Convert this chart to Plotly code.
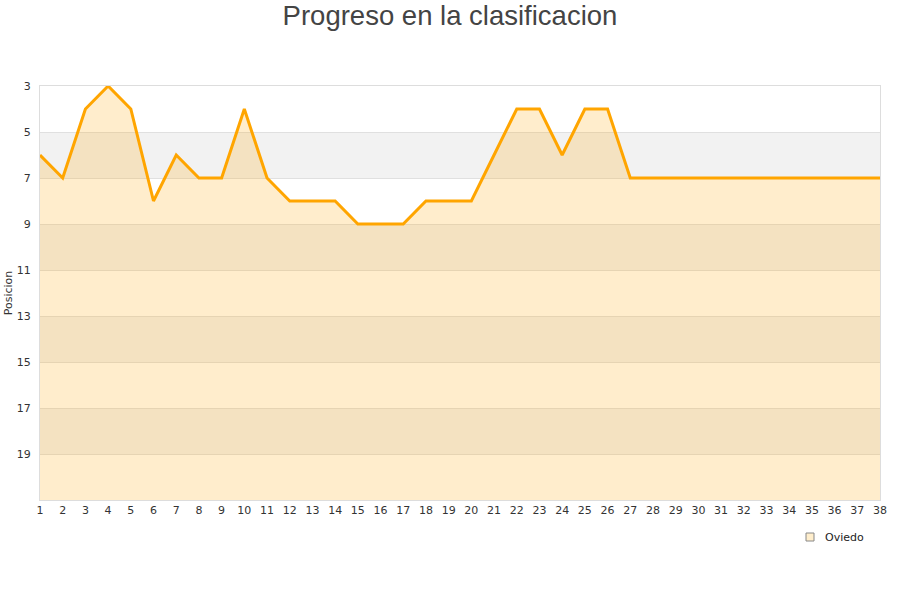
import plotly.graph_objects as go

jornadas = list(range(1, 39))
posiciones = [6, 7, 4, 3, 4, 8, 6, 7, 7, 4, 7, 8, 8, 8, 9, 9, 9, 8, 8, 8,
              6, 4, 4, 6, 4, 4, 7, 7, 7, 7, 7, 7, 7, 7, 7, 7, 7, 7]
equipo = "Oviedo"
y_ticks = [3, 5, 7, 9, 11, 13, 15, 17, 19]
gray_bands = [(5, 7), (9, 11), (13, 15), (17, 19)]
y_bottom = 21

fig = go.Figure()
fig.add_trace(go.Scatter(x=jornadas, y=[y_bottom] * len(jornadas), mode="lines",
                         line=dict(width=0), showlegend=False, hoverinfo="skip"))
fig.add_trace(go.Scatter(x=jornadas, y=posiciones, mode="lines", fill="tonexty",
                         fillcolor="rgba(255,165,0,0.2)",
                         line=dict(color="#ffa500", width=3), showlegend=False, name=equipo))

W, H = 900, 600
L, R, T, B = 40, 20, 86, 100
pw, ph = W - L - R, H - T - B


def px_x(p):
    return (p - L) / pw


def px_y(p):
    return (H - B - p) / ph


shapes = []
for a, b in gray_bands:
    shapes.append(dict(type="rect", xref="paper", yref="y", x0=0, x1=1, y0=a, y1=b,
                       fillcolor="#f2f2f2", line=dict(width=0), layer="below"))
# legend swatch
shapes.append(dict(type="rect", xref="paper", yref="paper",
                   x0=px_x(806), x1=px_x(814), y0=px_y(541), y1=px_y(533),
                   fillcolor="#ffeecc", line=dict(color="#888888", width=1)))

annotations = [dict(text=equipo, xref="paper", yref="paper", x=px_x(823), y=px_y(537),
                    xanchor="left", yanchor="middle", showarrow=False,
                    font=dict(family="DejaVu Sans", size=11, color="#222222"))]

fig.update_layout(
    width=W, height=H,
    margin=dict(l=L, r=R, t=T, b=B),
    paper_bgcolor="white", plot_bgcolor="white",
    title=dict(text="Progreso en la clasificacion", x=0.5, xanchor="center",
               y=0.975, yanchor="middle", automargin=False,
               font=dict(family="Liberation Sans, Arial", size=27.5, color="#444444")),
    font=dict(family="DejaVu Sans", size=11, color="#333333"),
    shapes=shapes,
    annotations=annotations,
    showlegend=False,
    xaxis=dict(range=[1, 38], tickmode="array", tickvals=jornadas, automargin=False,
               showgrid=False, zeroline=False, showline=True, linecolor="#dddddd",
               mirror=True, ticks="", tickfont=dict(size=11, color="#333333")),
    yaxis=dict(range=[y_bottom, 3], tickmode="array", tickvals=y_ticks, automargin=False,
               showgrid=True, gridcolor="#e0e0e0", zeroline=False,
               showline=True, linecolor="#dddddd", mirror=True, ticks="",
               ticklabelstandoff=6,
               title=dict(text="Posicion", font=dict(size=11, color="#333333"), standoff=1),
               tickfont=dict(size=11, color="#333333")),
)

fig.write_html("out.html", config={"displayModeBar": False},
               post_script="document.body.style.margin='0';")
